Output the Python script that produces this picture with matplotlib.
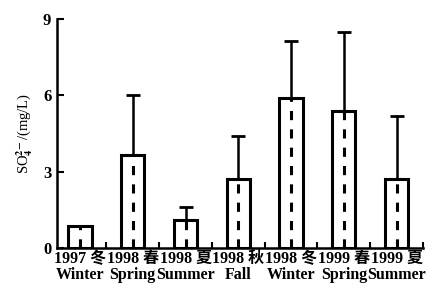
import matplotlib
matplotlib.use("Agg")
import matplotlib.pyplot as plt
import numpy as np

cats_cn = ["1997 冬", "1998 春", "1998 夏", "1998 秋", "1998 冬", "1999 春", "1999 夏"]
cats_en = ["Winter", "Spring", "Summer", "Fall", "Winter", "Spring", "Summer"]
means = [0.85, 3.65, 1.1, 2.7, 5.9, 5.4, 2.7]
upper_err = [0.0, 2.35, 0.5, 1.7, 2.25, 3.1, 2.5]
yticks = [0, 3, 6, 9]

plt.rcParams['font.family'] = ['Liberation Serif', 'Noto Sans CJK SC']
plt.rcParams['font.weight'] = 'bold'
plt.rcParams['mathtext.fontset'] = 'stix'

fig = plt.figure(figsize=(4.37, 2.91), dpi=100)
ax = fig.add_axes([0.130, 0.148, 0.838, 0.787])
x = np.arange(len(means))
w = 0.44
ax.bar(x, means, width=w, facecolor='white', edgecolor='black', linewidth=2.2, zorder=2)
ax.vlines(x, 0, means, colors='black', linestyles=(0, (3, 3)), linewidth=2.2, zorder=3)
err = np.array([np.zeros(len(means)), upper_err])
mask = np.array(upper_err) > 0
ax.errorbar(x[mask], np.array(means)[mask], yerr=err[:, mask], fmt='none', ecolor='black',
            elinewidth=1.8, capsize=5, capthick=2, zorder=1)

ax.set_xlim(-0.44, 6.49)
ax.set_ylim(0, 9)
ax.set_yticks(yticks)
ax.set_yticklabels([str(v) for v in yticks], fontsize=12)
ax.set_xticks(x)
ax.set_xticklabels([f"{c}\n{e}" for c, e in zip(cats_cn, cats_en)], fontsize=11.5, linespacing=1.05)
ax.tick_params(axis='x', length=0, pad=2)
ax.set_xticks(x + 0.5, minor=True)
ax.tick_params(axis='x', which='minor', direction='in', length=4, width=1.5)
ax.tick_params(axis='y', direction='in', length=5, width=1.5, pad=4)
for s in ['top', 'right']:
    ax.spines[s].set_visible(False)
for s in ['left', 'bottom']:
    ax.spines[s].set_linewidth(1.8)
ax.set_ylabel(r"SO$_4^{2\!-}$/(mg/L)", fontsize=10.5, labelpad=6)

fig.savefig("out.png", dpi=100)
